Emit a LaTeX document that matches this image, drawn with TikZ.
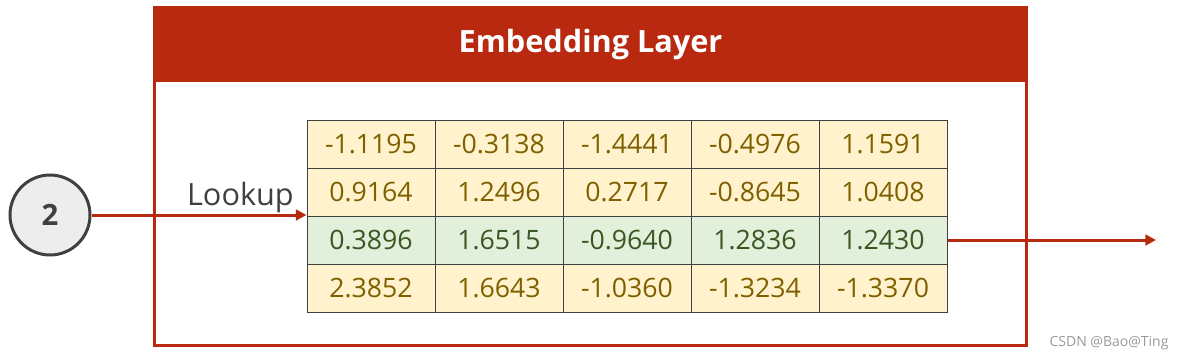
\documentclass[tikz,border=0pt]{standalone}
\usepackage{fontspec}
\setmainfont{Open Sans}
\usetikzlibrary{arrows.meta,positioning}
\definecolor{layer}{HTML}{B8290F}
\definecolor{cellbg}{HTML}{FFF2CC}
\definecolor{celltext}{HTML}{7F6000}
\definecolor{hitbg}{HTML}{E2EFDA}
\definecolor{hittext}{HTML}{385723}
\definecolor{tokenbg}{HTML}{EDEDED}
\definecolor{ink}{HTML}{404040}

\begin{document}
\begin{tikzpicture}[x=0.75pt,y=-0.75pt,
  cell/.style={draw=black!75,line width=0.75pt,fill=cellbg,text=celltext,
    minimum width=96pt,minimum height=36pt,inner sep=0pt,
    font=\fontsize{20}{24}\selectfont},
  hitcell/.style={cell,fill=hitbg,text=hittext},
  flow/.style={layer,line width=2.25pt,-{Triangle[length=8pt,width=8pt]}}]
  \useasboundingbox (0,0) rectangle (1180,361);

  % Layer frame with title bar
  \node[fill=layer,text=white,minimum width=653pt,minimum height=55.5pt,
    font=\fontsize{23}{27}\selectfont\bfseries] (title) at (590.5,45) {Embedding Layer};
  \coordinate (corner) at (1026,345);
  \draw[layer,line width=2.25pt] (title.north west) rectangle (corner);

  % Embedding table
  \foreach \row/\sty/\vals in {1/cell/{-1.1195,-0.3138,-1.4441,-0.4976,1.1591},
                               2/cell/{0.9164,1.2496,0.2717,-0.8645,1.0408},
                               3/hitcell/{0.3896,1.6515,-0.9640,1.2836,1.2430},
                               4/cell/{2.3852,1.6643,-1.0360,-1.3234,-1.3370}}
    \foreach \v [count=\col] in \vals
      \node[\sty] (c-\row-\col) at (243+128*\col,96+48*\row) {\v};

  % Input token
  \node[circle,draw=ink,line width=2.25pt,fill=tokenbg,text=ink,minimum size=60pt,
    font=\fontsize{22}{26}\selectfont\bfseries] (token) at (50,215) {2};
  \draw[flow] (token) -- (token -| c-3-1.west);
  \node[text=ink,font=\fontsize{23}{27}\selectfont,anchor=south east,inner sep=0pt]
    (lookup) at (294,213) {Lookup};

  % Output
  \coordinate (out) at (1156,240);
  \draw[flow] (c-3-5.east) -- (out);

  \node[text=black!40,font=\fontsize{10.5}{12}\selectfont] (mark) at (1109,343) {CSDN @Bao@Ting};
\end{tikzpicture}
\end{document}
